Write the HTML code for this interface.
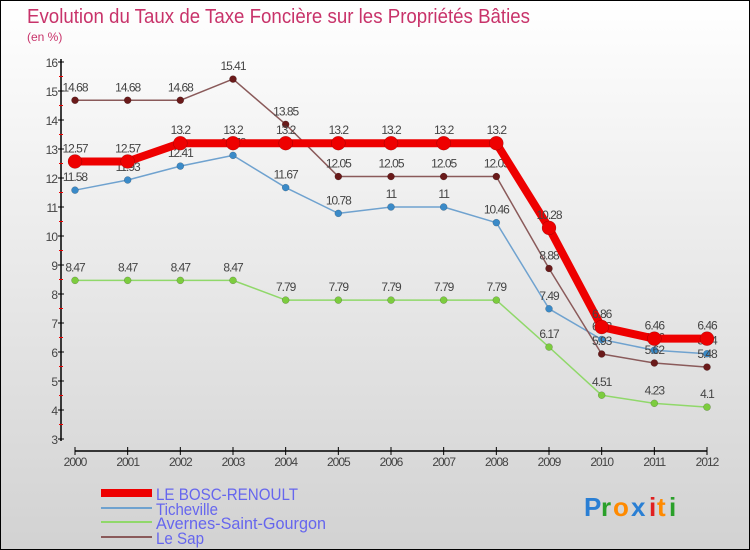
<!DOCTYPE html>
<html><head><meta charset="utf-8"><style>
body{margin:0;}
#c{width:748px;height:548px;border:1px solid #000;background:linear-gradient(#ffffff,#d2d2d2);position:relative;overflow:hidden;font-family:"Liberation Sans",sans-serif;}
svg text{font-family:"Liberation Sans",sans-serif;}
</style></head><body>
<div id="c">
<svg id="s" width="748" height="548">
<text x="26" y="22" font-size="20" fill="#c8336a" textLength="503" lengthAdjust="spacingAndGlyphs">Evolution du Taux de Taxe Foncière sur les Propriétés Bâties</text>
<text x="26" y="40" font-size="12" fill="#c8336a">(en %)</text>
<g id="axes"></g><g id="series"></g>
<g>
<rect x="100" y="488" width="51" height="8" fill="#ee0000"/>
<text x="155" y="499" font-size="17" fill="#6666ee" textLength="142" lengthAdjust="spacingAndGlyphs">LE BOSC-RENOULT</text>
<rect x="100" y="506" width="51" height="2" fill="#6fa2cf"/>
<text x="155" y="514" font-size="17" fill="#6666ee" textLength="62" lengthAdjust="spacingAndGlyphs">Ticheville</text>
<rect x="100" y="520" width="51" height="2" fill="#90d86a"/>
<text x="155" y="528" font-size="17" fill="#6666ee" textLength="170" lengthAdjust="spacingAndGlyphs">Avernes-Saint-Gourgon</text>
<rect x="100" y="535" width="51" height="2" fill="#8a5a5a"/>
<text x="155" y="543" font-size="17" fill="#6666ee" textLength="48" lengthAdjust="spacingAndGlyphs">Le Sap</text>
</g>
<g font-size="26" font-weight="bold">
<text x="583" y="515" fill="#2a7fd4">P</text><text x="600" y="515" fill="#2aa02a">r</text><text x="612" y="515" fill="#ff8a00">o</text><text x="630" y="515" fill="#2a7fd4">x</text><text x="648" y="515" fill="#e02020">i</text><text x="656" y="515" fill="#ff8a00">t</text><text x="668" y="515" fill="#2aa02a">i</text>
</g>
</svg></div>
<script>
const years=[2000,2001,2002,2003,2004,2005,2006,2007,2008,2009,2010,2011,2012];
const yTicks=[3,4,5,6,7,8,9,10,11,12,13,14,15,16];
const bosc=[12.57,12.57,13.2,13.2,13.2,13.2,13.2,13.2,13.2,10.28,6.86,6.46,6.46];
const ticheville=[11.58,11.93,12.41,12.78,11.67,10.78,11,11,10.46,7.49,6.43,6.06,5.94];
const avernes=[8.47,8.47,8.47,8.47,7.79,7.79,7.79,7.79,7.79,6.17,4.51,4.23,4.1];
const lesap=[14.68,14.68,14.68,15.41,13.85,12.05,12.05,12.05,12.05,8.88,5.93,5.62,5.48];
const X=i=>74+i*(632/12);
const Y=v=>61+(16-v)*29;
const NS="http://www.w3.org/2000/svg";
function mk(t,a,p){const e=document.createElementNS(NS,t);for(const k in a)e.setAttribute(k,a[k]);p.appendChild(e);return e;}
const ax=document.getElementById('axes');
let yl=mk('line',{x1:60,y1:58,x2:60,y2:440,stroke:'#000','stroke-width':1.5},ax);


let xl=mk('line',{x1:74,y1:450,x2:706,y2:450,stroke:'#000','stroke-width':1.5},ax);


yTicks.forEach(v=>{
 mk('line',{x1:57,x2:63,y1:Y(v),y2:Y(v),stroke:'#000'},ax);
 if(v<16)mk('line',{x1:58,x2:62,y1:Y(v+0.5),y2:Y(v+0.5),stroke:'#e00'},ax);
 const t=mk('text',{x:56,y:Y(v)+5,'font-size':12,fill:'#444','text-anchor':'end','letter-spacing':'-1'},ax);
 t.textContent=v;
 
 
});
years.forEach((yr,i)=>{
 mk('line',{x1:X(i),x2:X(i),y1:446,y2:454,stroke:'#000'},ax);
 const t=mk('text',{x:X(i),y:465,'font-size':12,fill:'#444','text-anchor':'middle','letter-spacing':'-1'},ax);
 t.textContent=yr;
 
 
});
const sg=document.getElementById('series');
function series(vals,color,dot,w,r,name){
 const g=mk('g',{},sg);
 
 
 mk('polyline',{points:vals.map((v,i)=>X(i)+','+Y(v)).join(' '),fill:'none',stroke:color,'stroke-width':w,'stroke-linejoin':'round'},g);
 vals.forEach((v,i)=>{
  const c=mk('circle',{cx:X(i),cy:Y(v),r:r,fill:dot,stroke:'rgba(0,0,0,0.3)','stroke-width':0.5},g);
  
  
  const t=mk('text',{x:X(i),y:Y(v)-9,'font-size':12,fill:'#444','text-anchor':'middle','letter-spacing':'-1'},g);
  t.textContent=v;
  
  
 });
}
series(avernes,'#90d86a','#7ccc3e',1.5,3.5,'avernes');
series(ticheville,'#6fa2cf','#3a8ac8',1.5,3.5,'ticheville');
series(lesap,'#8a5a5a','#6a1a1a',1.5,3.5,'lesap');
series(bosc,'#ee0000','#ee0000',8,7,'bosc');
</script>
</body></html>
